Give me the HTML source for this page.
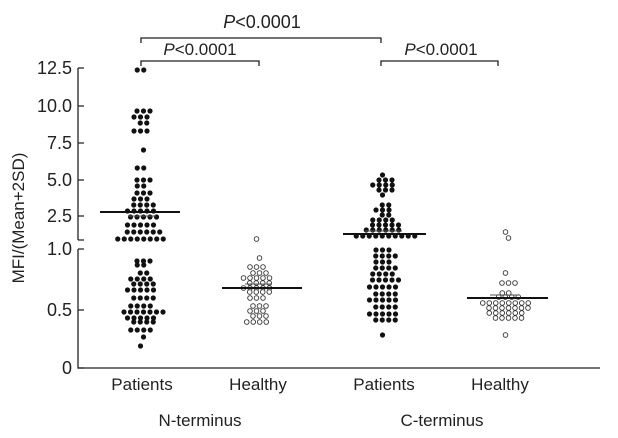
<!DOCTYPE html>
<html><head><meta charset="utf-8"><style>
html,body{margin:0;padding:0;background:#fff;}
svg{display:block;font-family:"Liberation Sans",sans-serif;}
</style></head><body>
<svg id="s" width="618" height="438" viewBox="0 0 618 438" xmlns="http://www.w3.org/2000/svg">
<g stroke="#222" stroke-width="1.3" fill="none">
<path d="M78 68 V240 M78 249 V368 H600"/>
<path d="M78 68 h6 M78 106 h6 M78 143 h6 M78 180 h6 M78 216 h6 M78 249 h6 M78 310 h6 M78 368 h6 M78 240 h6"/>
<path d="M141 43 V38 H381 V43"/>
<path d="M141 66 V61 H259 V66"/>
<path d="M381 66 V61 H498 V66"/>
</g>
<g font-size="18" fill="#222" text-anchor="end">
<text x="72" y="74">12.5</text><text x="72" y="112">10.0</text><text x="72" y="149">7.5</text>
<text x="72" y="186">5.0</text><text x="72" y="222">2.5</text><text x="72" y="255">1.0</text>
<text x="72" y="316">0.5</text><text x="72" y="374">0</text>
</g>
<text transform="translate(24 218) rotate(-90)" font-size="17" text-anchor="middle" fill="#222">MFI/(Mean+2SD)</text>
<g font-size="18" fill="#222" text-anchor="middle">
<text x="262" y="28"><tspan font-style="italic">P</tspan>&lt;0.0001</text>
</g>
<g font-size="17" fill="#222" text-anchor="middle">
<text x="200" y="55"><tspan font-style="italic">P</tspan>&lt;0.0001</text>
<text x="441" y="55"><tspan font-style="italic">P</tspan>&lt;0.0001</text>
<text x="142" y="390">Patients</text><text x="258" y="390">Healthy</text>
<text x="384" y="390">Patients</text><text x="500" y="390">Healthy</text>
<text x="200" y="426">N-terminus</text><text x="442" y="426">C-terminus</text>
</g>
<g id="d"></g>
<g stroke="#111" stroke-width="2">
<path d="M100 212 H180 M222 288 H302 M343 234 H426 M467 298 H548"/>
</g>
<g stroke="#555" stroke-width="1">
<path d="M128 216 H156 M245 284 H272 M365 231 H402 M490 295 H520"/>
</g>
</svg>
<script>
var G=[
[142,true,[[70,2],[111,3],[117,3],[123,2],[131,3],[150,1],[168,2],[180,3],[186,2],[193,3],[199,3],[205,4],[211,5],[217,5],[225,5],[232,6],[239,8],[261,3],[265,2],[273,2],[279,4],[284,4],[290,5],[298,4],[306,4],[312,7],[318,5],[322,4],[330,4],[337,1],[346,1]]],
[258,false,[[239,1],[258,1],[267,3],[273,3],[278,5],[283,4],[288,5],[292,4],[298,3],[306,3],[311,3],[316,3],[322,4]]],
[384,true,[[175,1],[180,3],[185,4],[190,3],[195,1],[205,2],[210,3],[215,2],[220,4],[225,5],[230,6],[236,10],[250,3],[256,4],[262,3],[268,4],[274,4],[280,5],[287,5],[294,4],[300,5],[307,4],[314,5],[320,4],[335,1]]],
[507,false,[[232,1],[238,1],[273,1],[283,3],[293,2],[297,4],[303,8],[308,7],[313,6],[318,5],[335,1]]]];
var h='';
G.forEach(function(g){g[2].forEach(function(r,i){for(var k=0;k<r[1];k++){var x=g[0]+(k-(r[1]-1)/2)*6.5+((i%2)?1.5:-1.5);
h+=g[1]?'<circle cx="'+x+'" cy="'+r[0]+'" r="2.6" fill="#111"/>':'<circle cx="'+x+'" cy="'+r[0]+'" r="2.3" fill="#fff" stroke="#333" stroke-width="0.9"/>';}});});
document.getElementById('d').innerHTML=h;
</script>
</body></html>
